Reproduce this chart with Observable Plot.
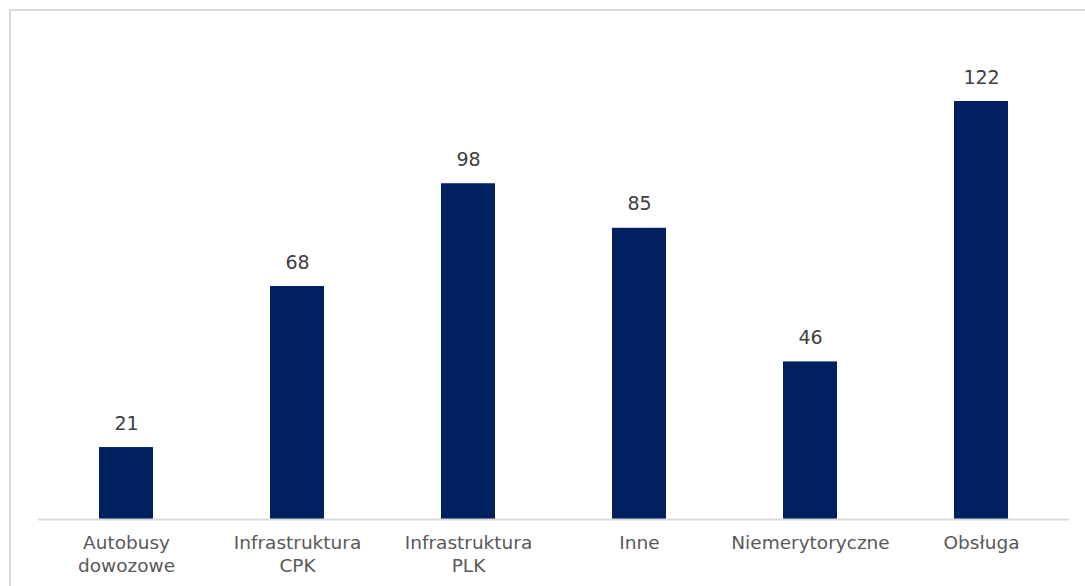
<!DOCTYPE html>
<html>
<head>
<meta charset="utf-8">
<script src="https://cdn.jsdelivr.net/npm/d3@7"></script>
<script src="https://cdn.jsdelivr.net/npm/@observablehq/plot@0.6"></script>
<style>
  html, body { margin: 0; padding: 0; background: #fff; }
  #wrap { position: relative; width: 1085px; height: 586px; overflow: hidden; }
  #frame { position: absolute; left: 9px; top: 9px; width: 1100px; height: 600px;
           border-top: 2px solid #d9d9d9; border-left: 2px solid #d9d9d9; box-sizing: border-box; }
  #chart { position: absolute; left: 0; top: 0; }
</style>
</head>
<body>
<div id="wrap">
  <div id="frame"></div>
  <div id="chart"></div>
</div>
<script>
const categories = ["Autobusy dowozowe", "Infrastruktura CPK", "Infrastruktura PLK", "Inne", "Niemerytoryczne", "Obsługa"];
const tickLabels = ["Autobusy\ndowozowe", "Infrastruktura\nCPK", "Infrastruktura\nPLK", "Inne", "Niemerytoryczne", "Obsługa"];
const values = [21, 68, 98, 85, 46, 122];

const data = categories.map((c, i) => ({category: c, value: values[i]}));
const labelOf = new Map(categories.map((c, i) => [c, tickLabels[i]]));

const chart = Plot.plot({
  width: 1085,
  height: 586,
  marginLeft: 38,
  marginRight: 16,
  marginTop: 101,
  marginBottom: 67,
  style: {fontFamily: "'DejaVu Sans', sans-serif", background: "transparent"},
  x: {domain: categories, paddingInner: 0.686, paddingOuter: 0.343, align: 0.5},
  y: {domain: [0, 122], axis: null},
  marks: [
    Plot.barY(data, {x: "category", y: "value", fill: "#002060"}),
    Plot.ruleY([0], {stroke: "#d9d9d9", strokeWidth: 2}),
    Plot.text(data, {x: "category", y: "value", text: d => String(d.value), dy: -24,
      fill: "#404040", fontSize: 19}),
    Plot.axisX({tickSize: 0, tickPadding: 13, fontSize: 18.5, lineHeight: 1.24,
      tickFormat: d => labelOf.get(d), fill: "#595959", label: null})
  ]
});
document.getElementById("chart").appendChild(chart);
</script>
</body>
</html>
